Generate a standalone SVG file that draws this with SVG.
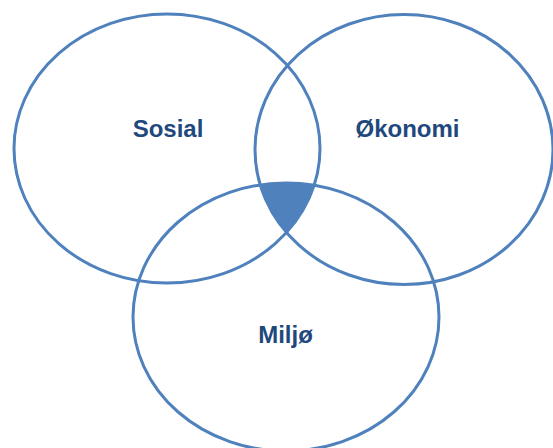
<svg xmlns="http://www.w3.org/2000/svg" width="553" height="448" viewBox="0 0 553 448">
<style>
.c{fill:none;stroke:#4F81BD;stroke-width:3}
.t{font-family:"Liberation Sans",Arial,sans-serif;font-weight:bold;font-size:24px;fill:#1F497D;text-anchor:middle}
</style>
<defs>
<clipPath id="cL"><ellipse cx="167" cy="148.5" rx="153" ry="134.5"/></clipPath>
<clipPath id="cR"><ellipse cx="404" cy="149.5" rx="149" ry="135"/></clipPath>
</defs>
<rect width="553" height="448" fill="#fff"/>
<g id="center-fill" clip-path="url(#cL)"><ellipse cx="286" cy="317" rx="153" ry="134" fill="#4F81BD" clip-path="url(#cR)"/></g>
<g id="sosial"><ellipse class="c" cx="167" cy="148.5" rx="153" ry="134.5"/><text class="t" x="168" y="137">Sosial</text></g>
<g id="okonomi"><ellipse class="c" cx="404" cy="149.5" rx="149" ry="135"/><text class="t" x="407.5" y="137">Økonomi</text></g>
<g id="miljo"><ellipse class="c" cx="286" cy="317" rx="153" ry="134"/><text class="t" x="285.5" y="343">Miljø</text></g>
<g id="connectors"/>
</svg>
